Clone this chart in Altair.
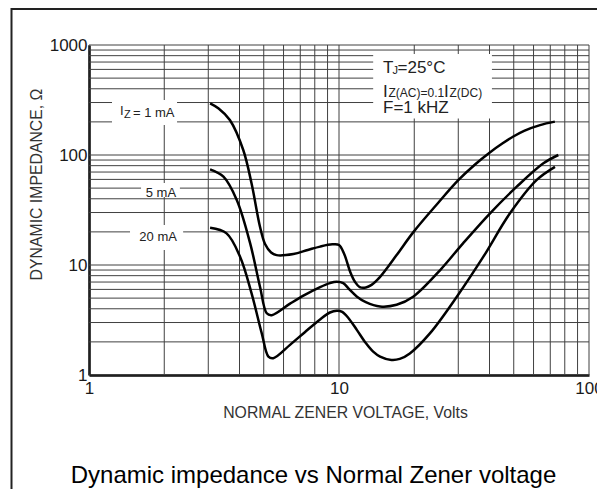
import altair as alt
import pandas as pd

# ---------------- data ----------------
series_names = ["1 mA", "5 mA", "20 mA"]

volts_1ma = [3.05, 3.3, 3.66, 4.14, 4.47, 4.83, 5.06, 5.35, 5.63, 6.57, 7.5, 8.4, 9.4, 10.0, 10.5,
             11.1, 11.6, 12.1, 12.8, 13.5, 14.6, 17.0, 19.8, 25.0, 30.0, 35.0, 40.0, 45.0, 50.0,
             55.0, 63.7, 73.0]
imp_1ma = [295, 265, 208, 111, 55, 22.3, 15.5, 13.0, 12.3, 12.6, 13.7, 14.7, 15.4, 15.2, 12.5,
           8.6, 7.0, 6.3, 6.25, 6.6, 7.8, 12.3, 19.8, 37, 59, 82, 105, 127, 148,
           166, 187, 201]

volts_5ma = [3.05, 3.45, 3.9, 4.41, 4.83, 5.14, 5.38, 6.37, 7.3, 8.4, 9.2, 9.8, 10.4, 11.0,
             11.8, 12.8, 14.6, 17.0, 19.8, 25.4, 31.4, 40.2, 51.4, 65.7, 75.4]
imp_5ma = [74, 63.5, 39, 15.8, 6.35, 3.64, 3.5, 4.45, 5.35, 6.3, 6.85, 7.05, 6.85, 6.0,
           5.15, 4.6, 4.2, 4.35, 5.15, 9.0, 15.8, 29.5, 51.5, 84, 100]

volts_20ma = [3.05, 3.55, 4.02, 4.47, 4.91, 5.22, 5.46, 6.37, 7.3, 8.4, 9.2, 9.8, 10.3, 10.9,
              11.8, 12.8, 13.7, 14.6, 16.2, 17.5, 19.2, 23.1, 29.6, 37.8, 48.3, 61.8, 73.1]
imp_20ma = [21.8, 19.4, 11.9, 5.53, 2.39, 1.47, 1.42, 1.88, 2.45, 3.2, 3.7, 3.84, 3.75, 3.3,
            2.56, 1.95, 1.63, 1.47, 1.37, 1.4, 1.57, 2.39, 5.15, 11.9, 29.5, 59.3, 78]

x_tick_values = [1, 10, 100]
y_tick_values = [1, 10, 100, 1000]

grid_volts = [1, 2, 3, 4, 5, 6, 7, 8, 9, 10, 20, 30, 40, 50, 60, 70, 80, 90, 100]
grid_imp = [1, 2, 3, 4, 5, 6, 7, 8, 9, 10, 20, 30, 40, 50, 60, 70, 80, 90,
            100, 200, 300, 400, 500, 600, 700, 800, 900, 1000]

# white label backgrounds (data units)
mask_x1 = [1.236, 1.615, 1.459, 13.7]
mask_x2 = [2.25, 2.31, 2.38, 40.9]
mask_y1 = [187, 41.5, 13.7, 215]
mask_y2 = [316, 55.6, 23.1, 830]

x_title = "NORMAL ZENER VOLTAGE, Volts"
y_title = "DYNAMIC IMPEDANCE, Ω"
caption = "Dynamic impedance vs Normal Zener voltage"

# ---------------- build ----------------
FONT = "Liberation Sans"

curves = pd.concat([
    pd.DataFrame({"x": volts_1ma, "y": imp_1ma, "series": series_names[0]}),
    pd.DataFrame({"x": volts_5ma, "y": imp_5ma, "series": series_names[1]}),
    pd.DataFrame({"x": volts_20ma, "y": imp_20ma, "series": series_names[2]}),
])

xs = alt.Scale(type="log", domain=[1, 100], nice=False)
ys = alt.Scale(type="log", domain=[1, 1000], nice=False)

xaxis = alt.Axis(values=x_tick_values, format="d", grid=False, ticks=False,
                 domainColor="black", domainWidth=2.5,
                 labelFont=FONT, labelFontSize=17, labelColor="#1a1a1a",
                 labelPadding=5, labelFlush=False, labelOverlap=False,
                 title=x_title, titleFont=FONT, titleFontSize=15.8, titleFontWeight="normal",
                 titleColor="#333333", titleX=256, titleY=42,
                 titleBaseline="alphabetic", titleAlign="center")
yaxis = alt.Axis(values=y_tick_values, format="d", grid=False, ticks=False,
                 domainColor="black", domainWidth=2.5,
                 labelFont=FONT, labelFontSize=17, labelColor="#1a1a1a",
                 labelPadding=2, labelOverlap=False,
                 title=y_title, titleFont=FONT, titleFontSize=15.8, titleFontWeight="normal",
                 titleColor="#333333", titleAngle=270, titleX=-48, titleY=139,
                 titleBaseline="alphabetic", titleAlign="center")

X = lambda f="x": alt.X(f"{f}:Q", scale=xs, axis=xaxis)
Y = lambda f="y": alt.Y(f"{f}:Q", scale=ys, axis=yaxis)

vgrid = alt.Chart(pd.DataFrame({"x": grid_volts})).mark_rule(
    color="#404040", strokeWidth=1).encode(x=X())
hgrid = alt.Chart(pd.DataFrame({"y": grid_imp})).mark_rule(
    color="#404040", strokeWidth=1).encode(y=Y())

masks = alt.Chart(pd.DataFrame({"x": mask_x1, "x2": mask_x2, "y": mask_y1, "y2": mask_y2})).mark_rect(
    color="white").encode(x=X(), x2="x2:Q", y=Y(), y2="y2:Q")

lines = alt.Chart(curves).mark_line(
    interpolate="catmull-rom", color="black", strokeWidth=2.5).encode(
    x=X(), y=Y(), detail="series:N")


def label(text, x, y, size, dx=0, dy=0, align="left", baseline="alphabetic", color="#222222"):
    return alt.Chart(pd.DataFrame({"x": [x], "y": [y], "t": [text]})).mark_text(
        font=FONT, fontSize=size, align=align, baseline=baseline, dx=dx, dy=dy, color=color
    ).encode(x=X(), y=Y(), text="t:N")


texts = [
    # conditions block
    label("T", 15.0, 553, 17),
    label("J", 15.0, 553, 11, dx=9.5, dy=1),
    label("=25°C", 15.0, 553, 17, dx=14.5),
    label("I", 15.0, 339, 17),
    label("Z(AC)=0.1", 15.0, 339, 12, dx=5.5),
    label("I", 15.0, 339, 17, dx=61),
    label("Z(DC)", 15.0, 339, 12, dx=66.5),
    label("F=1 kHZ", 15.0, 239, 17),
    # curve labels
    label("I", 1.33, 221, 13, dy=-2),
    label("Z", 1.33, 221, 11, dx=4, dy=1),
    label("= 1 mA", 1.33, 221, 13, dx=13),
    label(series_names[1], 1.94, 45.2, 13, align="center", baseline="middle"),
    label(series_names[2], 1.89, 18.0, 13, align="center", baseline="middle"),
]

one = pd.DataFrame({"a": [0]})
cap = alt.Chart(one).mark_text(font=FONT, fontSize=24, align="center", baseline="alphabetic",
                               color="black").encode(
    x=alt.value(224.5), y=alt.value(438), text=alt.value(caption))
frame = alt.Chart(one).mark_rect(fillOpacity=0, stroke="#222222", strokeWidth=2).encode(
    x=alt.value(-77.5), x2=alt.value(620), y=alt.value(-36), y2=alt.value(470))

chart = alt.layer(vgrid, hgrid, masks, lines, *texts, cap, frame).properties(
    width=500, height=330,
    autosize=alt.AutoSizeParams(type="none"),
    padding={"left": 81, "top": 37, "right": 8, "bottom": 114},
    background="white",
).configure_view(stroke=None)

chart.save("out.html", embed_options={"renderer": "svg", "actions": False})
